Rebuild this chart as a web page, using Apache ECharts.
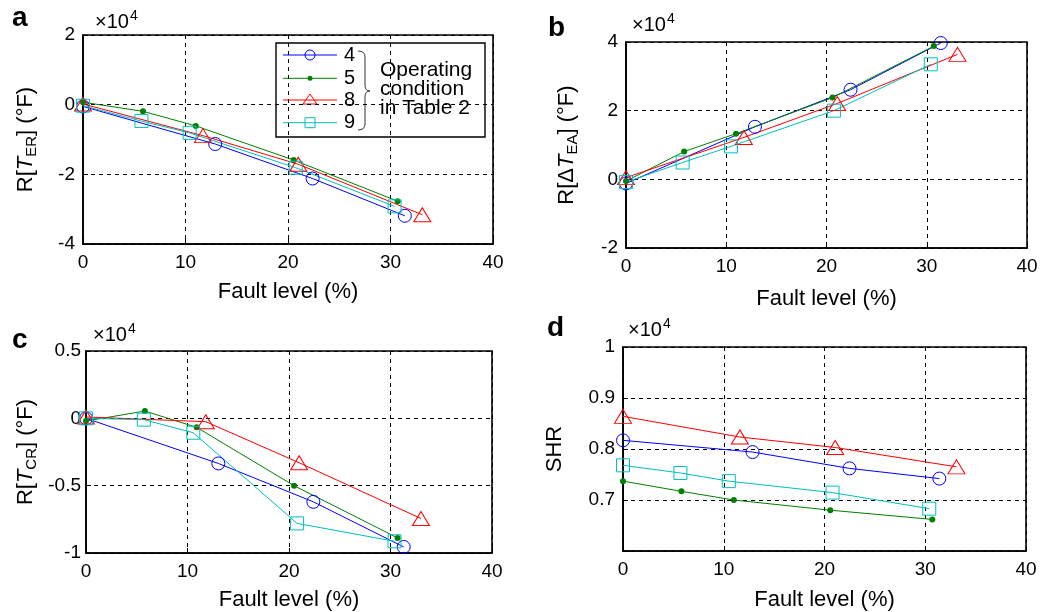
<!DOCTYPE html>
<html>
<head>
<meta charset="utf-8">
<script src="https://cdn.jsdelivr.net/npm/echarts@6/dist/echarts.min.js"></script>
<style>html,body{margin:0;padding:0;background:#fff}#c{width:1051px;height:612px}</style>
</head>
<body>
<div id="c"></div>
<script>
// ---------------- data (values as displayed, ×10^4) ----------------
const conditions = ['4', '5', '8', '9'];
const xTicks = [0, 10, 20, 30, 40];

// Panel a: R[T_ER]
const aX4 = [0, 12.9, 22.4, 31.4],          aY4 = [-0.05, -1.13, -2.12, -3.19];
const aX5 = [0, 5.85, 11.0, 20.55, 30.7],   aY5 = [0.07, -0.19, -0.61, -1.59, -2.77];
const aX8 = [0, 11.7, 21.0, 33.1],          aY8 = [0.02, -0.89, -1.71, -3.16];
const aX9 = [0, 5.7, 10.4, 20.75, 30.4],    aY9 = [-0.03, -0.47, -0.81, -1.81, -2.92];

// Panel b: R[ΔT_EA]
const bX4 = [0, 12.86, 22.4, 31.4],         bY4 = [-0.12, 1.53, 2.61, 3.97];
const bX5 = [0, 5.8, 10.97, 20.6, 30.7],    bY5 = [-0.05, 0.81, 1.33, 2.38, 3.88];
const bX8 = [0, 11.76, 21.07, 33.07],       bY8 = [0.05, 1.22, 2.21, 3.64];
const bX9 = [0, 5.65, 10.47, 20.74, 30.4],  bY9 = [-0.08, 0.49, 0.96, 2.0, 3.35];

// Panel c: R[T_CR]
const cX4 = [0, 13.04, 22.4, 31.3],         cY4 = [0, -0.335, -0.62, -0.955];
const cX5 = [0, 5.8, 10.9, 20.5, 30.7],     cY5 = [-0.02, 0.054, -0.067, -0.5, -0.888];
const cX8 = [0, 11.8, 21.0, 33.0],          cY8 = [0.01, -0.025, -0.33, -0.744];
const cX9 = [0, 5.7, 10.57, 20.8, 30.4],    cY9 = [0, -0.01, -0.107, -0.78, -0.913];

// Panel d: SHR
const dX4 = [0, 12.86, 22.48, 31.4],        dY4 = [0.817, 0.794, 0.762, 0.742];
const dX5 = [0, 5.8, 11.0, 20.57, 30.7],    dY5 = [0.737, 0.717, 0.700, 0.680, 0.662];
const dX8 = [0, 11.6, 21.06, 33.1],         dY8 = [0.864, 0.8235, 0.803, 0.765];
const dX9 = [0, 5.7, 10.5, 20.8, 30.4],     dY9 = [0.768, 0.753, 0.737, 0.7145, 0.683];

// y-axis ranges per panel
const yRanges = [
  {min: -4, max: 2, interval: 2},
  {min: -2, max: 4, interval: 2},
  {min: -1, max: 0.5, interval: 0.5},
  {min: 0.6, max: 1, interval: 0.1}
];

// ---------------- styling ----------------
const FONT = '"Liberation Sans", Arial, Helvetica, sans-serif';
const styleOf = {
  '4': {color: '#0000ff', symbol: 'circle',   size: 13,       hollow: true},
  '5': {color: '#008000', symbol: 'circle',   size: 6,        hollow: false},
  '8': {color: '#ff0000', symbol: 'triangle', size: [17, 14], hollow: true},
  '9': {color: '#00bfbf', symbol: 'rect',     size: 13,       hollow: true}
};
const panelData = [
  [[aX4, aY4], [aX5, aY5], [aX8, aY8], [aX9, aY9]],
  [[bX4, bY4], [bX5, bY5], [bX8, bY8], [bX9, bY9]],
  [[cX4, cY4], [cX5, cY5], [cX8, cY8], [cX9, cY9]],
  [[dX4, dY4], [dX5, dY5], [dX8, dY8], [dX9, dY9]]
];
const grids = [
  {left: 83,  top: 35,  width: 410, height: 209},
  {left: 626, top: 42,  width: 401, height: 206},
  {left: 86,  top: 351, width: 406, height: 202},
  {left: 623, top: 347, width: 403, height: 205}
];
const yNames = [
  '{n|R[}{it|T}{sub|ER}{n|] (°F)}',
  '{n|R[Δ}{it|T}{sub|EA}{n|] (°F)}',
  '{n|R[}{it|T}{sub|CR}{n|] (°F)}',
  '{n|SHR}'
];
const yNameGaps = [44, 46, 47, 57];
const yLabelMargins = [8, 8, 5, 8];
const xNameGaps = [37, 40, 36, 38];

const dashed = {show: true, lineStyle: {color: '#000', type: [4, 4], width: 1}};
const nameRich = {
  n:   {fontSize: 22, fontFamily: FONT, color: '#000'},
  it:  {fontSize: 22, fontFamily: FONT, color: '#000', fontStyle: 'italic'},
  sub: {fontSize: 15, fontFamily: FONT, color: '#000', padding: [11, 0, 0, 0]}
};

const option = {
  animation: false,
  backgroundColor: '#fff',
  grid: grids.map(g => Object.assign({show: true, borderColor: '#000', borderWidth: 1.6, backgroundColor: 'transparent'}, g)),
  xAxis: grids.map((g, i) => ({
    type: 'value', gridIndex: i, min: xTicks[0], max: xTicks[xTicks.length - 1], interval: xTicks[1] - xTicks[0],
    name: 'Fault level (%)', nameLocation: 'middle', nameGap: xNameGaps[i],
    nameTextStyle: {fontSize: 22, fontFamily: FONT, color: '#000'},
    axisLine: {show: true, onZero: false, lineStyle: {color: '#000', width: 1.6}},
    axisTick: {show: true, inside: true, length: 5, lineStyle: {color: '#000'}},
    axisLabel: {fontSize: 19, fontFamily: FONT, color: '#000', margin: 9},
    splitLine: dashed
  })),
  yAxis: grids.map((g, i) => ({
    type: 'value', gridIndex: i, min: yRanges[i].min, max: yRanges[i].max, interval: yRanges[i].interval,
    name: yNames[i], nameLocation: 'middle', nameGap: yNameGaps[i], nameRotate: 90,
    nameTextStyle: {fontSize: 22, fontFamily: FONT, color: '#000', rich: nameRich},
    axisLine: {show: true, onZero: false, lineStyle: {color: '#000', width: 1.6}},
    axisTick: {show: true, inside: true, length: 5, lineStyle: {color: '#000'}},
    axisLabel: {
      fontSize: 19, fontFamily: FONT, color: '#000', margin: yLabelMargins[i],
      formatter: v => {
        if (i === 3 && v < 0.65) return '';
        return String(Math.round(v * 10) / 10);
      }
    },
    splitLine: dashed
  })),
  series: [],
  graphic: []
};

panelData.forEach((panel, p) => {
  panel.forEach(([xs, ys], k) => {
    const st = styleOf[conditions[k]];
    option.series.push({
      type: 'line', name: conditions[k], xAxisIndex: p, yAxisIndex: p,
      data: xs.map((x, j) => [x, ys[j]]),
      symbol: st.symbol, symbolSize: st.size, showSymbol: true, clip: false,
      lineStyle: {color: st.color, width: 1},
      itemStyle: st.hollow
        ? {color: 'rgba(255,255,255,0)', borderColor: st.color, borderWidth: 1}
        : {color: st.color, borderWidth: 0},
      emphasis: {disabled: true},
      z: 3
    });
  });
});

// panel letters and ×10^4 multipliers
const letters = [['a', 12, 18], ['b', 548, 28], ['c', 12, 340], ['d', 547, 328]];
letters.forEach(([t, x, y]) => option.graphic.push({
  type: 'text', x: x, y: y, z: 10,
  style: {text: t, fontSize: 28, fontWeight: 'bold', fontFamily: FONT, fill: '#000', verticalAlign: 'middle'}
}));
const mults = [[95, 22], [632, 25], [93, 335], [628, 330]];
mults.forEach(([x, y]) => option.graphic.push({
  type: 'text', x: x, y: y, z: 10,
  style: {
    text: '{b|×10}{s|4}', verticalAlign: 'middle', align: 'left',
    rich: {
      b: {fontSize: 20, fontFamily: FONT, fill: '#000', color: '#000'},
      s: {fontSize: 14, fontFamily: FONT, fill: '#000', color: '#000', padding: [0, 0, 12, 1]}
    }
  }
}));

// legend (panel a)
const legRows = [55, 78.3, 100, 122.7];
const leg = [{type: 'rect', shape: {x: 276, y: 43, width: 209, height: 94}, style: {fill: '#fff', stroke: '#000', lineWidth: 1.4}}];
conditions.forEach((c, k) => {
  const st = styleOf[c], y = legRows[k];
  leg.push({type: 'line', shape: {x1: 283, y1: y, x2: 337, y2: y}, style: {stroke: st.color, lineWidth: 1}});
  if (c === '4') leg.push({type: 'circle', shape: {cx: 310, cy: y, r: 5}, style: {fill: 'none', stroke: st.color, lineWidth: 1}});
  if (c === '5') leg.push({type: 'circle', shape: {cx: 310, cy: y, r: 2.5}, style: {fill: st.color}});
  if (c === '8') leg.push({type: 'polygon', shape: {points: [[303, y + 4], [317, y + 4], [310, y - 6]]}, style: {fill: 'none', stroke: st.color, lineWidth: 1}});
  if (c === '9') leg.push({type: 'rect', shape: {x: 305, y: y - 5, width: 10, height: 10}, style: {fill: 'none', stroke: st.color, lineWidth: 1}});
  leg.push({type: 'text', x: 344, y: y, style: {text: c, fontSize: 20, fontFamily: FONT, fill: '#000', verticalAlign: 'middle'}});
});
// curly brace
const braceStyle = {fill: 'none', stroke: '#333', lineWidth: 1};
leg.push({type: 'bezierCurve', shape: {x1: 358, y1: 51, cpx1: 365, cpy1: 51, x2: 365, y2: 57}, style: braceStyle});
leg.push({type: 'line', shape: {x1: 365, y1: 57, x2: 365, y2: 85}, style: braceStyle});
leg.push({type: 'bezierCurve', shape: {x1: 365, y1: 85, cpx1: 365, cpy1: 91, x2: 370, y2: 91}, style: braceStyle});
leg.push({type: 'bezierCurve', shape: {x1: 370, y1: 91, cpx1: 365, cpy1: 91, x2: 365, y2: 97}, style: braceStyle});
leg.push({type: 'line', shape: {x1: 365, y1: 97, x2: 365, y2: 124}, style: braceStyle});
leg.push({type: 'bezierCurve', shape: {x1: 365, y1: 124, cpx1: 365, cpy1: 130, x2: 358, y2: 130}, style: braceStyle});
[['Operating', 70], ['condition', 89.5], ['in Table 2', 108.5]].forEach(([t, y]) =>
  leg.push({type: 'text', x: 380, y: y, style: {text: t, fontSize: 21, fontFamily: FONT, fill: '#000', verticalAlign: 'middle'}}));
option.graphic.push({type: 'group', z: 20, children: leg});

const chart = echarts.init(document.getElementById('c'), null, {renderer: 'canvas'});
chart.setOption(option);
</script>
</body>
</html>
